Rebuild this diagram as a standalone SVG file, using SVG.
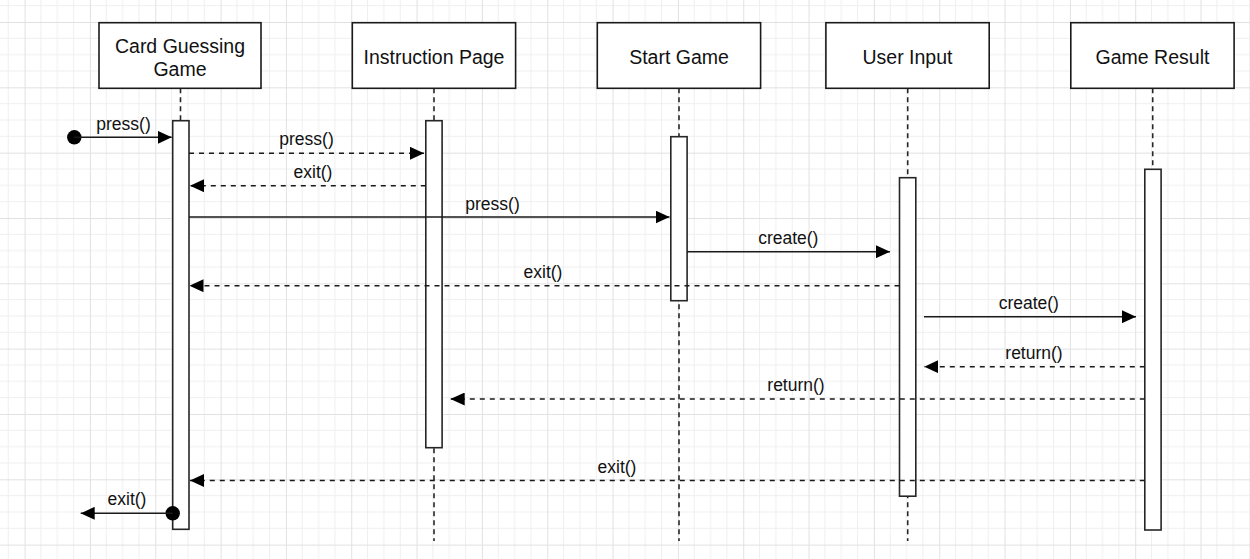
<svg xmlns="http://www.w3.org/2000/svg" width="1250" height="559" viewBox="0 0 1250 559">
  <style>
    .box { fill: #ffffff; stroke: #1a1a1a; stroke-width: 1.6; }
    .bar { fill: #ffffff; stroke: #262626; stroke-width: 1.6; }
    .life { stroke: #262626; stroke-width: 1.6; stroke-dasharray: 5 4; fill: none; }
    .msg { stroke: #1a1a1a; stroke-width: 1.6; fill: none; }
    .ret { stroke: #1a1a1a; stroke-width: 1.6; fill: none; stroke-dasharray: 5 5; }
    .head { font-family: "Liberation Sans", Arial, sans-serif; font-size: 19.5px; fill: #111; text-anchor: middle; }
    .lbl { font-family: "Liberation Sans", Arial, sans-serif; font-size: 17.5px; fill: #111; text-anchor: middle; }
    .dot { fill: #000; }
  </style>
  <defs>
    <pattern id="grid" patternUnits="userSpaceOnUse" x="24.6" y="22" width="65.33" height="65.33">
      <path d="M16.33 0V65.33M32.67 0V65.33M49 0V65.33M0 16.33H65.33M0 32.67H65.33M0 49H65.33" stroke="#efefef" stroke-width="1"/>
      <path d="M0.5 0V65.33M0 0.5H65.33" stroke="#e1e1e1" stroke-width="1"/>
    </pattern>
    <marker id="arrow" viewBox="0 0 14 13" refX="14" refY="6.5" markerWidth="14" markerHeight="13" markerUnits="userSpaceOnUse" orient="auto">
      <path d="M0 0L14 6.5L0 13Z" fill="#000"/>
    </marker>
  </defs>

  <!-- background grid -->
  <rect x="0" y="0" width="1250" height="559" fill="#ffffff"/>
  <rect x="0" y="0" width="1250" height="559" fill="url(#grid)"/>

  <!-- lifelines -->
  <g id="lifelines">
    <line class="life" x1="180.5" y1="88.3" x2="180.5" y2="121"/>
    <line class="life" x1="434" y1="88.3" x2="434" y2="541"/>
    <line class="life" x1="679" y1="88.3" x2="679" y2="541"/>
    <line class="life" x1="907.7" y1="88.3" x2="907.7" y2="541"/>
    <line class="life" x1="1152.7" y1="88.3" x2="1152.7" y2="170"/>
  </g>

  <g id="card-guessing-game">
    <rect class="box" x="99" y="22.7" width="162" height="65.6"/>
    <text class="head" x="180" y="52.5">Card Guessing</text>
    <text class="head" x="180" y="76">Game</text>
    <rect class="bar" x="172.7" y="120.7" width="16.3" height="408.6"/>
  </g>

  <g id="instruction-page">
    <rect class="box" x="352.3" y="22.7" width="163.3" height="65.6"/>
    <text class="head" x="434" y="63.5">Instruction Page</text>
    <rect class="bar" x="425.8" y="120.7" width="16.3" height="327"/>
  </g>

  <g id="start-game">
    <rect class="box" x="597.3" y="22.7" width="163.3" height="65.6"/>
    <text class="head" x="679" y="63.5">Start Game</text>
    <rect class="bar" x="670.8" y="136.7" width="16.3" height="164"/>
  </g>

  <g id="user-input">
    <rect class="box" x="825.9" y="22.7" width="163.3" height="65.6"/>
    <text class="head" x="907.5" y="63.5">User Input</text>
    <rect class="bar" x="899.5" y="177.7" width="16.3" height="318.5"/>
  </g>

  <g id="game-result">
    <rect class="box" x="1070.8" y="22.7" width="163.3" height="65.6"/>
    <text class="head" x="1152.5" y="63.5">Game Result</text>
    <rect class="bar" x="1144.8" y="169.3" width="16.3" height="360.7"/>
  </g>

  <!-- messages -->
  <g id="connectors">
    <circle class="dot" cx="74.3" cy="137.3" r="7.2"/>
    <line class="msg" x1="74.3" y1="137.3" x2="171.7" y2="137.3" marker-end="url(#arrow)"/>
    <text class="lbl" x="123.5" y="129.5">press()</text>

    <line class="ret" x1="189" y1="153.3" x2="424" y2="153.3" marker-end="url(#arrow)"/>
    <text class="lbl" x="306.5" y="145">press()</text>

    <line class="ret" x1="425.8" y1="185.7" x2="190" y2="185.7" marker-end="url(#arrow)"/>
    <text class="lbl" x="313" y="178">exit()</text>

    <line class="msg" x1="189" y1="217" x2="669.5" y2="217" marker-end="url(#arrow)"/>
    <text class="lbl" x="492.5" y="210">press()</text>

    <line class="msg" x1="687" y1="251.7" x2="890" y2="251.7" marker-end="url(#arrow)"/>
    <text class="lbl" x="788.3" y="243.5">create()</text>

    <line class="ret" x1="899.5" y1="285.7" x2="189.5" y2="285.7" marker-end="url(#arrow)"/>
    <text class="lbl" x="543" y="278">exit()</text>

    <line class="msg" x1="924" y1="316.7" x2="1136" y2="316.7" marker-end="url(#arrow)"/>
    <text class="lbl" x="1028.8" y="308.5">create()</text>

    <line class="ret" x1="1144.8" y1="366.7" x2="924.3" y2="366.7" marker-end="url(#arrow)"/>
    <text class="lbl" x="1034" y="359">return()</text>

    <line class="ret" x1="1144.8" y1="399" x2="450.7" y2="399" marker-end="url(#arrow)"/>
    <text class="lbl" x="796" y="391">return()</text>

    <line class="ret" x1="1144.8" y1="480.5" x2="190" y2="480.5" marker-end="url(#arrow)"/>
    <text class="lbl" x="617" y="472.5">exit()</text>

    <circle class="dot" cx="172.7" cy="513.3" r="7.2"/>
    <line class="msg" x1="172.7" y1="513.3" x2="80.7" y2="513.3" marker-end="url(#arrow)"/>
    <text class="lbl" x="127" y="505">exit()</text>
  </g>
</svg>
